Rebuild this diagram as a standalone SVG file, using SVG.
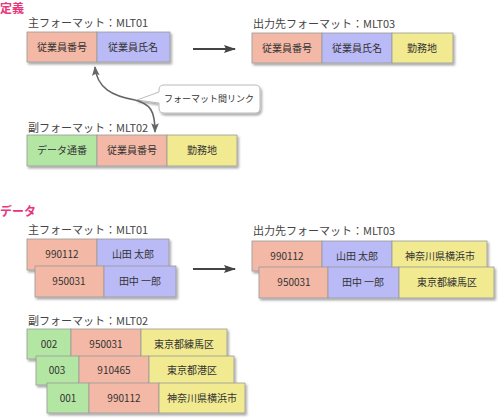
<svg xmlns="http://www.w3.org/2000/svg" width="500" height="420" viewBox="0 0 500 420">
<style>
text{font-family:"Noto Sans CJK JP","DejaVu Sans",sans-serif;fill:#333}
.h{font-size:12px;font-weight:bold;fill:#e8357c}
.lbl{font-size:11px;fill:#444}
.c{font-size:10px;text-anchor:middle}
.s{fill:#f4b9a6;stroke:#999;stroke-width:0.8}
.b{fill:#babaf7;stroke:#999;stroke-width:0.8}
.y{fill:#f1ea90;stroke:#999;stroke-width:0.8}
.g{fill:#b3e6a3;stroke:#999;stroke-width:0.8}
.conn{fill:none;stroke:#444;stroke-width:2}
.link{fill:none;stroke:#666;stroke-width:1.6}
</style>
<defs>
<filter id="sh" x="-10%" y="-20%" width="130%" height="160%">
<feDropShadow dx="1.5" dy="2" stdDeviation="1.2" flood-color="#000" flood-opacity="0.35"/>
</filter>
<marker id="ah" viewBox="0 0 12 10" refX="11" refY="5" markerWidth="7" markerHeight="5" orient="auto" markerUnits="strokeWidth">
<path d="M0,1 L12,5 L0,9 L2,5 z" fill="#444"/>
</marker>
<marker id="ah2" viewBox="0 0 10 10" refX="9" refY="5" markerWidth="6" markerHeight="6" orient="auto" markerUnits="strokeWidth">
<path d="M0,1 L10,5 L0,9 L2,5 z" fill="#666"/>
</marker>
</defs>

<text class="h" x="0" y="13">定義</text>

<g id="def-main">
<text class="lbl" x="28" y="27">主フォーマット：MLT01</text>
<g filter="url(#sh)">
<rect class="s" x="27" y="32" width="70" height="30"/>
<rect class="b" x="97" y="32" width="73" height="30"/>
</g>
<text class="c" x="62" y="51">従業員番号</text>
<text class="c" x="133" y="51">従業員氏名</text>
</g>

<g id="def-out">
<text class="lbl" x="253" y="28">出力先フォーマット：MLT03</text>
<g filter="url(#sh)">
<rect class="s" x="252" y="33" width="70" height="30"/>
<rect class="b" x="322" y="33" width="70" height="30"/>
<rect class="y" x="392" y="33" width="61" height="30"/>
</g>
<text class="c" x="287" y="52">従業員番号</text>
<text class="c" x="357" y="52">従業員氏名</text>
<text class="c" x="422" y="52">勤務地</text>
</g>

<g id="def-sub">
<text class="lbl" x="28" y="132">副フォーマット：MLT02</text>
<g filter="url(#sh)">
<rect class="g" x="27" y="135" width="70" height="31"/>
<rect class="s" x="97" y="135" width="70" height="31"/>
<rect class="y" x="167" y="135" width="70" height="31"/>
</g>
<text class="c" x="62" y="154">データ通番</text>
<text class="c" x="132" y="154">従業員番号</text>
<text class="c" x="202" y="154">勤務地</text>
</g>

<g id="callout">
<path d="M164,85 H255 Q260,85 260,90 V108 Q260,113 255,113 H164 Q159,113 159,108 V103 L137,100 L159,92 V90 Q159,85 164,85 Z" fill="#fff" stroke="#bbb" stroke-width="1" filter="url(#sh)"/>
<text x="209" y="102" style="font-size:9px;text-anchor:middle">フォーマット間リンク</text>
</g>

<text class="h" x="0" y="216">データ</text>

<g id="data-main">
<text class="lbl" x="28" y="234">主フォーマット：MLT01</text>
<g filter="url(#sh)">
<rect class="s" x="27" y="239" width="70" height="31"/>
<rect class="b" x="97" y="239" width="72" height="31"/>
</g>
<text class="c" x="62" y="258">990112</text>
<text class="c" x="133" y="258">山田 太郎</text>
<g filter="url(#sh)">
<rect class="s" x="35" y="266" width="69" height="31"/>
<rect class="b" x="104" y="266" width="72" height="31"/>
</g>
<text class="c" x="69" y="285">950031</text>
<text class="c" x="140" y="285">田中 一郎</text>
</g>

<g id="data-out">
<text class="lbl" x="253" y="235">出力先フォーマット：MLT03</text>
<g filter="url(#sh)">
<rect class="s" x="252" y="241" width="70" height="30"/>
<rect class="b" x="322" y="241" width="70" height="30"/>
<rect class="y" x="392" y="241" width="95" height="30"/>
</g>
<text class="c" x="287" y="260">990112</text>
<text class="c" x="357" y="260">山田 太郎</text>
<text class="c" x="440" y="260">神奈川県横浜市</text>
<g filter="url(#sh)">
<rect class="s" x="259" y="267" width="69" height="31"/>
<rect class="b" x="328" y="267" width="71" height="31"/>
<rect class="y" x="399" y="267" width="95" height="31"/>
</g>
<text class="c" x="294" y="286">950031</text>
<text class="c" x="363" y="286">田中 一郎</text>
<text class="c" x="447" y="286">東京都練馬区</text>
</g>

<g id="data-sub">
<text class="lbl" x="28" y="325">副フォーマット：MLT02</text>
<g filter="url(#sh)">
<rect class="g" x="27" y="329" width="44" height="30"/>
<rect class="s" x="71" y="329" width="70" height="30"/>
<rect class="y" x="141" y="329" width="86" height="30"/>
</g>
<text class="c" x="49" y="348">002</text>
<text class="c" x="106" y="348">950031</text>
<text class="c" x="184" y="348">東京都練馬区</text>
<g filter="url(#sh)">
<rect class="g" x="36" y="356" width="43" height="29"/>
<rect class="s" x="79" y="356" width="70" height="29"/>
<rect class="y" x="149" y="356" width="85" height="29"/>
</g>
<text class="c" x="57" y="374">003</text>
<text class="c" x="114" y="374">910465</text>
<text class="c" x="192" y="374">東京都港区</text>
<g filter="url(#sh)">
<rect class="g" x="47" y="383" width="42" height="30"/>
<rect class="s" x="89" y="383" width="70" height="30"/>
<rect class="y" x="159" y="383" width="86" height="30"/>
</g>
<text class="c" x="68" y="402">001</text>
<text class="c" x="124" y="402">990112</text>
<text class="c" x="202" y="402">神奈川県横浜市</text>
</g>

<g id="connectors">
<line class="conn" x1="193" y1="49" x2="235" y2="49" marker-end="url(#ah)"/>
<line class="conn" x1="193" y1="269" x2="235" y2="269" marker-end="url(#ah)"/>
<path class="link" d="M135,100 C112,96 97,88 95,67" marker-end="url(#ah2)"/>
<path class="link" d="M135,100 C150,104 155,110 155,132" marker-end="url(#ah2)"/>
</g>
</svg>
